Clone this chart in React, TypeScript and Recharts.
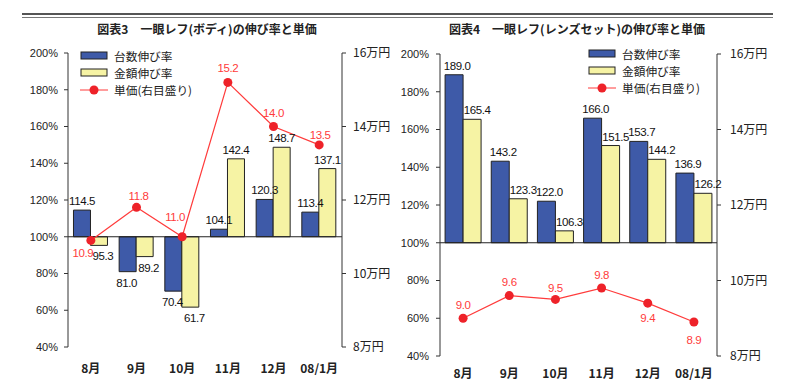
import React from "react";
import { ComposedChart, Bar, Line, XAxis, YAxis, ReferenceLine } from "recharts";

const months = ["8月", "9月", "10月", "11月", "12月", "08/1月"];

// 図表3 ボディ
const bodyUnits = [114.5, 81.0, 70.4, 104.1, 120.3, 113.4];
const bodyAmount = [95.3, 89.2, 61.7, 142.4, 148.7, 137.1];
const bodyPrice = [10.9, 11.8, 11.0, 15.2, 14.0, 13.5];

// 図表4 レンズセット
const lensUnits = [189.0, 143.2, 122.0, 166.0, 153.7, 136.9];
const lensAmount = [165.4, 123.3, 106.3, 151.5, 144.2, 126.2];
const lensPrice = [9.0, 9.6, 9.5, 9.8, 9.4, 8.9];

const pctTicks = [40, 60, 80, 100, 120, 140, 160, 180, 200];
const yenTicks = [8, 10, 12, 14, 16];

// where the red price labels sit relative to each dot [dx, dy]
const bodyPriceLabelPos = [[-8, 13], [2, -11], [-7, -20], [0, -14], [0, -14], [1, -10]];
const lensPriceLabelPos = [[0, -13], [0, -14], [0, -11], [0, -13], [0, 15], [0, 18]];

const FONT = '"Liberation Sans", "Noto Sans CJK JP", sans-serif';
const JP = '"Noto Sans CJK JP", sans-serif';
const BLUE = "#3e5aa8";
const YELLOW = "#f6f3a4";
const RED = "#ee2229";
const LINE_RED = "#ff3b3b";

const buildRows = (units: number[], amount: number[], price: number[]) =>
  months.map((m, i) => ({
    month: m,
    units: [100, units[i]],
    amount: [100, amount[i]],
    price: price[i],
  }));

const barLabel = (values: number[], dxUp: number, dxDown: number) => (props: any) => {
  const { x, y, width, height, index } = props;
  const v = values[index];
  const top = Math.min(y, y + height);
  const bottom = Math.max(y, y + height);
  const up = v >= 100;
  const cy = up ? top - 9 : bottom + 11;
  return (
    <text x={x + width / 2 + (up ? dxUp : dxDown)} y={cy} textAnchor="middle" dominantBaseline="central"
      fontSize={11.5} letterSpacing={-0.4} fontFamily={FONT} fill="#111">
      {v.toFixed(1)}
    </text>
  );
};

const priceLabel = (values: number[], pos: number[][]) => (props: any) => {
  const { x, y, index } = props;
  const [dx, dy] = pos[index];
  return (
    <text x={x + dx} y={y + dy} textAnchor="middle" dominantBaseline="central"
      fontSize={11.5} letterSpacing={-0.4} fontFamily={FONT} fill={LINE_RED}>
      {values[index].toFixed(1)}
    </text>
  );
};

const LegendBox = ({ left, top }: { left: number; top: number }) => (
  <div style={{ position: "absolute", left, top, fontFamily: JP, fontSize: 11.7, color: "#222", lineHeight: "17px" }}>
    <div style={{ display: "flex", alignItems: "center", height: 17 }}>
      <svg width={30} height={17}><rect x={1} y={5} width={26} height={7} fill={BLUE} stroke="#222" /></svg>
      <span style={{ marginLeft: 4 }}>台数伸び率</span>
    </div>
    <div style={{ display: "flex", alignItems: "center", height: 17 }}>
      <svg width={30} height={17}><rect x={1} y={5} width={26} height={7} fill={YELLOW} stroke="#222" /></svg>
      <span style={{ marginLeft: 4 }}>金額伸び率</span>
    </div>
    <div style={{ display: "flex", alignItems: "center", height: 17 }}>
      <svg width={30} height={17}>
        <line x1={0} y1={9} x2={28} y2={9} stroke={LINE_RED} />
        <circle cx={14} cy={9} r={4.5} fill={RED} />
      </svg>
      <span style={{ marginLeft: 4 }}>単価(右目盛り)</span>
    </div>
  </div>
);

type PanelProps = {
  title: string;
  units: number[];
  amount: number[];
  price: number[];
  labelPos: number[][];
  left: number;
  margin: { top: number; right: number; bottom: number; left: number };
  leftAxisW: number;
  rightAxisW: number;
  leftTickMargin: number;
  rightTickMargin: number;
  xTickMargin: number;
  legendPos: { left: number; top: number };
  titleCenter: number;
  gap: string;
  unitsDx: [number, number];
  amountDx: [number, number];
};

const Panel = (p: PanelProps) => {
  const rows = buildRows(p.units, p.amount, p.price);
  return (
    <div style={{ position: "absolute", left: p.left, top: 0, width: 400, height: 391 }}>
      <ComposedChart width={400} height={391} data={rows} margin={p.margin}
        barGap={0} barCategoryGap={p.gap}>
        <XAxis dataKey="month" axisLine={false} tickLine={false} height={30} tickMargin={p.xTickMargin}
          tick={{ fontSize: 12, fontFamily: JP, fontWeight: "bold", fill: "#222" }} interval={0} />
        <YAxis yAxisId="pct" domain={[40, 200]} ticks={pctTicks} width={p.leftAxisW}
          tickFormatter={(v: number) => `${v}%`} tickSize={4} tickMargin={p.leftTickMargin}
          axisLine={{ stroke: "#333" }} tickLine={{ stroke: "#333" }} allowDataOverflow
          tick={{ fontSize: 11, fontFamily: FONT, fill: "#222" }} />
        <YAxis yAxisId="yen" orientation="right" domain={[8, 16]} ticks={yenTicks} width={p.rightAxisW}
          tickFormatter={(v: number) => `${v}万円`} tickSize={4} tickMargin={p.rightTickMargin}
          axisLine={{ stroke: "#333" }} tickLine={{ stroke: "#333" }} allowDataOverflow
          tick={{ fontSize: 12, fontFamily: JP, fill: "#222" }} />
        <Bar yAxisId="pct" dataKey="units" fill={BLUE} stroke="#222" strokeWidth={1}
          isAnimationActive={false} label={barLabel(p.units, p.unitsDx[0], p.unitsDx[1])} />
        <Bar yAxisId="pct" dataKey="amount" fill={YELLOW} stroke="#222" strokeWidth={1}
          isAnimationActive={false} label={barLabel(p.amount, p.amountDx[0], p.amountDx[1])} />
        <ReferenceLine yAxisId="pct" y={100} stroke="#222" strokeWidth={1.2} />
        <Line yAxisId="yen" dataKey="price" stroke={LINE_RED} strokeWidth={1.2}
          dot={{ r: 4.5, fill: RED, stroke: RED, strokeWidth: 0 }} activeDot={false}
          isAnimationActive={false} label={priceLabel(p.price, p.labelPos)} />
      </ComposedChart>
      <div style={{ position: "absolute", top: 20, left: p.titleCenter - 150, width: 300, textAlign: "center",
        fontFamily: JP, fontWeight: "bold", fontSize: 12, color: "#222" }}>
        {p.title}
      </div>
      <LegendBox left={p.legendPos.left} top={p.legendPos.top} />
    </div>
  );
};

const App = () => {
  return (
    <div style={{ position: "absolute", left: 0, top: 0, width: 800, height: 391, background: "#fff" }}>
      {/* double rule on top */}
      <div style={{ position: "absolute", left: 22, top: 13, width: 751, height: 2, background: "#555" }} />
      <div style={{ position: "absolute", left: 22, top: 17, width: 751, height: 1, background: "#777" }} />
      <Panel title="図表3　一眼レフ(ボディ)の伸び率と単価" units={bodyUnits} amount={bodyAmount}
        price={bodyPrice} labelPos={bodyPriceLabelPos} left={0}
        margin={{ top: 53, right: 8, bottom: 14, left: 8 }} leftAxisW={60} rightAxisW={50}
        leftTickMargin={6} rightTickMargin={7} xTickMargin={11}
        legendPos={{ left: 80, top: 47 }} titleCenter={207} gap="12%"
        unitsDx={[0, -1]} amountDx={[0, 4]} />
      <Panel title="図表4　一眼レフ(レンズセット)の伸び率と単価" units={lensUnits} amount={lensAmount}
        price={lensPrice} labelPos={lensPriceLabelPos} left={400}
        margin={{ top: 54, right: 23, bottom: 5, left: 4 }} leftAxisW={36} rightAxisW={60}
        leftTickMargin={7} rightTickMargin={9} xTickMargin={7}
        legendPos={{ left: 188, top: 45 }} titleCenter={177} gap="11%"
        unitsDx={[3, 3]} amountDx={[5, 5]} />
    </div>
  );
};

export default App;
